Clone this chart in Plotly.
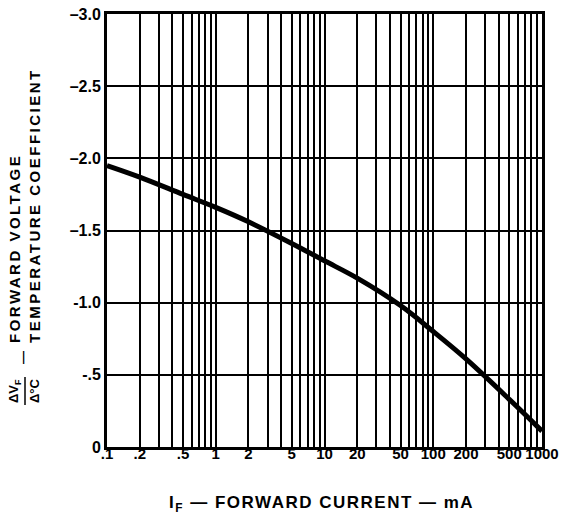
import plotly.graph_objects as go

# Data
current_ma = [0.1, 0.2, 0.5, 1, 2, 5, 10, 20, 50, 100, 200, 500, 1000]
temp_coeff = [-1.95, -1.87, -1.75, -1.66, -1.56, -1.41, -1.29, -1.17, -0.98, -0.80, -0.61, -0.33, -0.11]

x_grid_vals = [m * 10 ** e for e in range(-1, 3) for m in range(1, 10)] + [1000]
x_label_map = {0.1: ".1", 0.2: ".2", 0.5: ".5", 1: "1", 2: "2", 5: "5", 10: "10", 20: "20",
               50: "50", 100: "100", 200: "200", 500: "500", 1000: "1000"}
x_grid_text = [x_label_map.get(round(v, 6), "") for v in x_grid_vals]

y_tick_vals = [0, -0.5, -1.0, -1.5, -2.0, -2.5, -3.0]
y_tick_text = ["0", "-.5", "-1.0", "\u20131.5", "\u20132.0", "\u20132.5", "\u20133.0"]

FONT = "Liberation Sans, Arial, sans-serif"

fig = go.Figure()
fig.add_trace(go.Scatter(
    x=current_ma, y=temp_coeff, mode="lines",
    line=dict(color="black", width=5, shape="spline", smoothing=1.0),
    hoverinfo="skip", showlegend=False,
))

L, R, T, B = 107, 27, 14, 73
W, H = 569, 520
pw, ph = W - L - R, H - T - B

def px(xpix):
    return (xpix - L) / pw

def py(ypix):
    return (H - B - ypix) / ph

fig.update_layout(
    width=W, height=H,
    margin=dict(l=L, r=R, t=T, b=B, autoexpand=False),
    paper_bgcolor="white", plot_bgcolor="white",
    font=dict(family=FONT, color="black", size=16, weight="bold"),
    xaxis=dict(
        type="log", range=[-1, 3], automargin=False,
        tickmode="array", tickvals=x_grid_vals, ticktext=x_grid_text,
        tickangle=0,
        showgrid=True, gridcolor="black", gridwidth=1.9,
        showline=True, linecolor="black", linewidth=3, mirror=True,
        ticks="", zeroline=False, ticklabelstandoff=-9,
        tickfont=dict(family=FONT, size=15, color="black", weight="bold"),
    ),
    yaxis=dict(
        range=[0, -3], automargin=False,
        tickmode="array", tickvals=y_tick_vals, ticktext=y_tick_text,
        showgrid=True, gridcolor="black", gridwidth=1.9,
        showline=True, linecolor="black", linewidth=3, mirror=True,
        ticks="", zeroline=False,
        tickfont=dict(family=FONT, size=16, color="black", weight="bold"),
    ),
)

def ann(text, xpix, ypix, size, angle=0, spacing=0):
    if spacing:
        text = f'<span style="letter-spacing:{spacing}px">{text}</span>'
    fig.add_annotation(
        text=text, x=px(xpix), y=py(ypix), xref="paper", yref="paper",
        xanchor="center", yanchor="middle", showarrow=False, textangle=angle,
        font=dict(family=FONT, size=size, color="black", weight="bold"),
    )

# y-axis title pieces
ann("FORWARD VOLTAGE", 14, 249, 15, -90, 2.5)
ann("TEMPERATURE COEFFICIENT", 35, 206, 15, -90, 2.5)
ann("\u2014", 22, 358, 13, -90)
ann("\u0394V<sub>F</sub>", 14, 391, 13, -90)
ann("\u0394\u00b0C", 34, 391, 13, -90)
fig.add_shape(type="line", xref="paper", yref="paper",
              x0=px(25), x1=px(25), y0=py(377), y1=py(405),
              line=dict(color="black", width=1.5))

# x-axis title
ann("I<sub>F</sub> \u2014 FORWARD CURRENT \u2014 mA", 321, 504, 17, 0, 1.5)

fig.write_html("out.html")
